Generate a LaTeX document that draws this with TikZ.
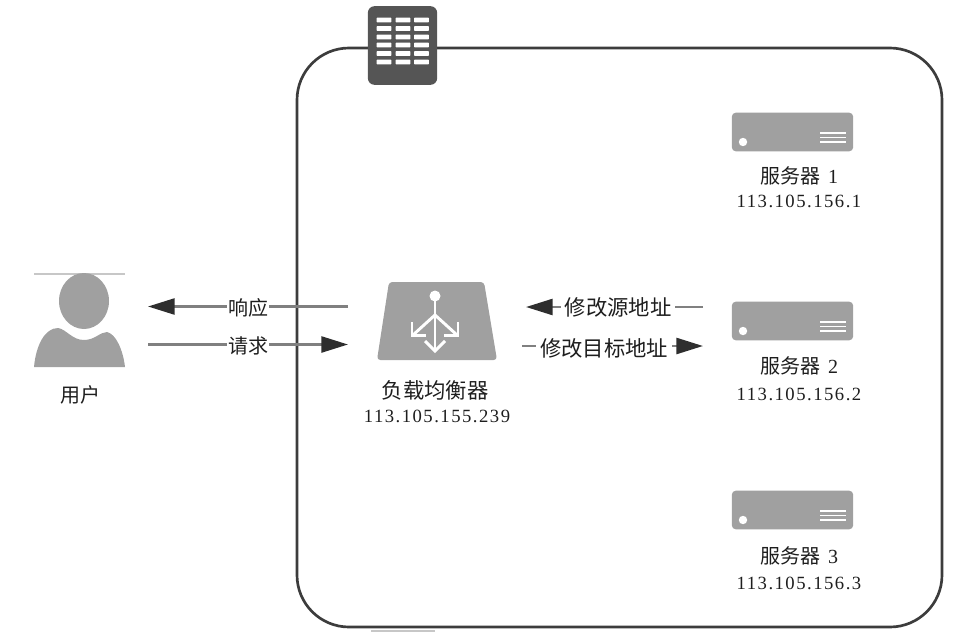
\documentclass[tikz,border=0pt]{standalone}
\usepackage{fontspec}
\setmainfont{Noto Sans CJK SC}
\newfontfamily\numfont[LetterSpace=8]{Liberation Serif}
\usetikzlibrary{arrows.meta}
\definecolor{framecol}{HTML}{3C3C3C}
\definecolor{rackcol}{HTML}{555555}
\definecolor{iconcol}{HTML}{A0A0A0}
\definecolor{linecol}{HTML}{808080}
\definecolor{headcol}{HTML}{2E2E2E}
\definecolor{textcol}{HTML}{1E1E1E}
\tikzset{
  frame/.style={draw=framecol,line width=2pt,rounded corners=39pt},
  msg/.style={draw=linecol,line width=1.9pt,-{Triangle[length=20pt,width=12pt,color=headcol,fill=headcol]}},
  msglabel/.style={fill=white,inner ysep=1pt,inner xsep=1pt,text=textcol,font=\fontsize{15pt}{18pt}\selectfont},
  widelabel/.style={fill=white,inner ysep=1pt,inner xsep=3pt,text=textcol,font=\fontsize{16pt}{19pt}\selectfont},
  caption/.style={text=textcol,font=\fontsize{15pt}{18pt}\selectfont,inner sep=0pt},
  bigcaption/.style={text=textcol,font=\fontsize{16pt}{19pt}\selectfont,inner sep=0pt},
  addr/.style={text=textcol,font=\fontsize{14pt}{18pt}\numfont,inner sep=0pt},
  serverbox/.style={fill=iconcol,rounded corners=3pt,minimum width=91pt,minimum height=29pt,inner sep=0pt},
  rackbox/.style={fill=rackcol,rounded corners=5pt,minimum width=52pt,minimum height=59pt,inner sep=0pt},
  rackrow/.style={fill=white,rounded corners=.5pt,minimum width=11pt,minimum height=3.6pt,inner sep=0pt},
  vent/.style={draw=white,line width=1.4pt},
  faint/.style={draw=black!22,line width=1.2pt},
  whiteline/.style={draw=white,line width=2.2pt},
  whitearrow/.style={draw=white,line width=2.2pt,line join=miter}
}
\begin{document}
\begin{tikzpicture}[x=.75pt,y=-.75pt]
\useasboundingbox (0,0) rectangle (974,639);
% container
\draw[frame] (297,48) rectangle (942,627);
\draw[faint] (371,631) -- (435,631);
% rack
\node[rackbox] (rack) at (402.5,45.5) {};
\foreach \rowy in {20,28.5,37,45,53.5,62}{
  \foreach \colx in {384,403,421.5}{
    \node[rackrow] at (\colx,\rowy) {};
  }
}
% user
\draw[faint] (34,274) -- (125,274);
\fill[iconcol] (84,301) ellipse [x radius=25,y radius=28];
\fill[iconcol] (34,367) .. controls (36,345) and (45,328) .. (58,328)
  .. controls (66,329) and (72,340) .. (84,340)
  .. controls (95,340) and (100,332) .. (107,332)
  .. controls (116,334) and (123,350) .. (125,367) -- cycle;
\node[caption] (usertext) at (80,395) {用户};
% load balancer
\fill[iconcol,rounded corners=2.5pt] (389,282) -- (484,282) -- (497,360) -- (377,360) -- cycle;
\draw[whiteline] (435,296) -- (435,350);
\fill[white] (435,296) circle [radius=5.5];
\draw[whiteline] (435,315) -- (413,335);
\draw[whiteline] (435,315) -- (457,335);
\draw[whitearrow] (412,322) -- (412,335.5) -- (426,335.5);
\draw[whitearrow] (458,322) -- (458,335.5) -- (444,335.5);
\draw[whitearrow] (425,341) -- (435,351) -- (445,341);
\node[bigcaption] (lbtext) at (435,390) {负载均衡器};
\node[addr] (lbaddr) at (437,416) {113.105.155.239};
% servers
\foreach \name/\midy/\lab/\ip/\capy/\ipy in {one/132/1/113.105.156.1/176/201,two/321/2/113.105.156.2/366/394,three/510/3/113.105.156.3/556/583}{
  \node[serverbox] (\name) at (792.5,\midy) {};
  \fill[white] (743,\midy+10) circle [radius=4.2];
  \draw[vent] (820,\midy+1) -- (846,\midy+1);
  \draw[vent] (820,\midy+5.5) -- (846,\midy+5.5);
  \draw[vent] (820,\midy+10) -- (846,\midy+10);
  \node[caption] (\name text) at (799,\capy) {服务器\hspace{6pt}{\numfont\lab}};
  \node[addr] (\name addr) at (799,\ipy) {\ip};
}
% connectors
\coordinate (respA) at (348,306.5);
\coordinate (respB) at (148,306.5);
\coordinate (reqA) at (148,344.5);
\coordinate (reqB) at (348,344.5);
\coordinate (srcA) at (703,307);
\coordinate (srcB) at (526,307);
\coordinate (dstA) at (522,346);
\coordinate (dstB) at (703,346);
\draw[msg] (respA) -- node[msglabel,yshift=-1pt] (resp) {响应} (respB);
\draw[msg] (reqA) -- node[msglabel,yshift=-1pt] (req) {请求} (reqB);
\draw[msg] (srcA) -- node[widelabel,pos=.48] (src) {修改源地址} (srcB);
\draw[msg] (dstA) -- node[widelabel,pos=.453,yshift=-2pt] (dst) {修改目标地址} (dstB);
\end{tikzpicture}
\end{document}
